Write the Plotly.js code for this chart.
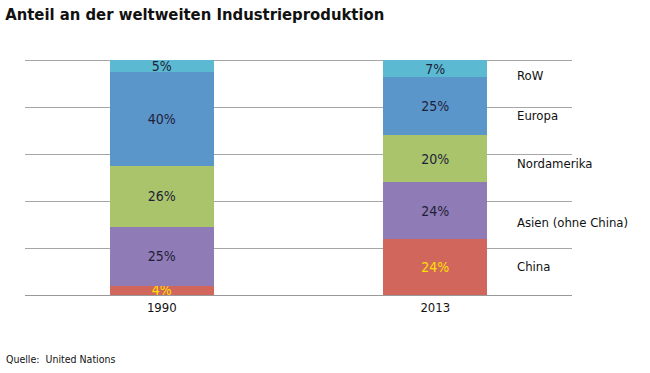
<!DOCTYPE html>
<html><head><meta charset="utf-8">
<script src="https://cdn.plot.ly/plotly-3.0.1.min.js"></script>
<style>html,body{margin:0;padding:0;background:#fff}#c{width:650px;height:373px}</style>
</head><body><div id="c"></div>
<script>
const years = ['1990', '2013'];
const seriesNames = ['China', 'Asien (ohne China)', 'Nordamerika', 'Europa', 'RoW'];
const china = [4, 24];
const asien = [25, 24];
const nordamerika = [26, 20];
const europa = [40, 25];
const row = [5, 7];
const colors = ['#D0665C', '#8F7BB5', '#A9C46B', '#5B96CB', '#5BBAD1'];
const textColors = ['#FFE000', '#1F1F3A', '#1F1F3A', '#1F1F3A', '#1F1F3A'];
const allSeries = [china, asien, nordamerika, europa, row];

const font = '"DejaVu Sans Condensed", "Liberation Sans", Tahoma, sans-serif';
const traces = allSeries.map((vals, i) => ({
  type: 'bar', name: seriesNames[i], x: years, y: vals,
  marker: {color: colors[i], line: {width: 0}},
  text: vals.map(v => v + '%'), textposition: 'inside', insidetextanchor: 'middle',
  constraintext: 'none',
  textfont: {family: font, size: 14, color: textColors[i]},
  hoverinfo: 'none'
}));

// Side labels at the middle of each 2013 segment
const annotations = [];
let cum = 0;
const offsets = [0, -5, -2, -4, -3];
allSeries.forEach((vals, i) => {
  const v = vals[1];
  annotations.push({
    xref: 'paper', yref: 'y', x: 0.895, y: cum + v / 2 + offsets[i],
    text: seriesNames[i], showarrow: false, xanchor: 'left', yanchor: 'middle',
    font: {family: font, size: 13, color: '#111'}
  });
  cum += v;
});
annotations.push({xref: 'paper', yref: 'paper', x: -0.038, y: -0.27, xanchor: 'left', yanchor: 'middle',
  text: 'Quelle:  United Nations', showarrow: false, font: {family: font, size: 10.5, color: '#111'}});

const layout = {
  width: 650, height: 373,
  margin: {l: 25, r: 78, t: 58, b: 78},
  barmode: 'stack', bargap: 0.62,
  showlegend: false,
  paper_bgcolor: '#fff', plot_bgcolor: '#fff',
  title: {text: '<b>Anteil an der weltweiten Industrieproduktion</b>', x: 0.008, xanchor: 'left', y: 0.962, yanchor: 'middle',
    font: {family: '"DejaVu Sans Condensed", "Liberation Sans", Arial, sans-serif', size: 16.5, color: '#111'}},
  xaxis: {type: 'category', showgrid: false, showline: true, linecolor: '#999', linewidth: 1,
    ticks: '', tickfont: {family: font, size: 13, color: '#111'}},
  yaxis: {range: [0, 101], tickvals: [0, 20, 40, 60, 80, 100], showgrid: true, gridcolor: '#A6A6A6', gridwidth: 1,
    showticklabels: false, zeroline: false, showline: false, ticks: ''},
  annotations: annotations,
  font: {family: font}
};
Plotly.newPlot('c', traces, layout, {staticPlot: true});
</script></body></html>
